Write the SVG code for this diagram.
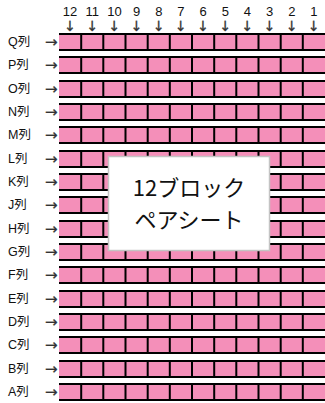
<svg xmlns="http://www.w3.org/2000/svg" xmlns:xlink="http://www.w3.org/1999/xlink" width="325" height="403" viewBox="0 0 325 403">
<style>
.lbl{font-family:"Liberation Sans","Noto Sans CJK JP",sans-serif;font-size:12.5px;fill:#111}
.arr{font-family:"DejaVu Sans",sans-serif;font-size:15px;fill:#333;stroke:#333;stroke-width:0.3}
.num{font-family:"Liberation Sans",sans-serif;font-size:13px;fill:#111;text-anchor:middle}
.dn{font-family:"DejaVu Sans",sans-serif;font-size:14px;fill:#333;stroke:#333;stroke-width:0.3;text-anchor:middle}
.big{font-family:"Noto Sans CJK JP",sans-serif;font-size:22px;fill:#111;text-anchor:middle}
</style>
<defs>
<g id="cells">
<rect x="59" y="0" width="266" height="18" fill="#000"/>
<rect x="59" y="2" width="266" height="14" fill="#F48FB9"/>
<path d="M81.2 0V18M103.3 0V18M125.5 0V18M147.7 0V18M169.8 0V18M192 0V18M214.2 0V18M236.3 0V18M258.5 0V18M280.7 0V18M302.8 0V18" stroke="#000" stroke-width="2"/>
</g>
</defs>
<rect width="325" height="403" fill="#fff"/>
<g id="columns">
<text class="num" x="70.1" y="16">12</text>
<text class="num" x="92.3" y="16">11</text>
<text class="num" x="114.4" y="16">10</text>
<text class="num" x="136.6" y="16">9</text>
<text class="num" x="158.8" y="16">8</text>
<text class="num" x="180.9" y="16">7</text>
<text class="num" x="203.1" y="16">6</text>
<text class="num" x="225.3" y="16">5</text>
<text class="num" x="247.4" y="16">4</text>
<text class="num" x="269.6" y="16">3</text>
<text class="num" x="291.8" y="16">2</text>
<text class="num" x="313.9" y="16">1</text>
<text class="dn" x="70.1" y="31">↓</text>
<text class="dn" x="92.3" y="31">↓</text>
<text class="dn" x="114.4" y="31">↓</text>
<text class="dn" x="136.6" y="31">↓</text>
<text class="dn" x="158.8" y="31">↓</text>
<text class="dn" x="180.9" y="31">↓</text>
<text class="dn" x="203.1" y="31">↓</text>
<text class="dn" x="225.3" y="31">↓</text>
<text class="dn" x="247.4" y="31">↓</text>
<text class="dn" x="269.6" y="31">↓</text>
<text class="dn" x="291.8" y="31">↓</text>
<text class="dn" x="313.9" y="31">↓</text>
</g>
<g id="row-Q"><text class="lbl" x="8" y="46">Q列</text><text class="arr" x="45" y="47">→</text><use xlink:href="#cells" y="33"/></g>
<g id="row-P"><text class="lbl" x="8" y="69">P列</text><text class="arr" x="45" y="70">→</text><use xlink:href="#cells" y="56"/></g>
<g id="row-O"><text class="lbl" x="8" y="93">O列</text><text class="arr" x="45" y="94">→</text><use xlink:href="#cells" y="80"/></g>
<g id="row-N"><text class="lbl" x="8" y="116">N列</text><text class="arr" x="45" y="117">→</text><use xlink:href="#cells" y="103"/></g>
<g id="row-M"><text class="lbl" x="8" y="139">M列</text><text class="arr" x="45" y="140">→</text><use xlink:href="#cells" y="126"/></g>
<g id="row-L"><text class="lbl" x="8" y="163">L列</text><text class="arr" x="45" y="164">→</text><use xlink:href="#cells" y="150"/></g>
<g id="row-K"><text class="lbl" x="8" y="186">K列</text><text class="arr" x="45" y="187">→</text><use xlink:href="#cells" y="173"/></g>
<g id="row-J"><text class="lbl" x="8" y="209">J列</text><text class="arr" x="45" y="210">→</text><use xlink:href="#cells" y="196"/></g>
<g id="row-H"><text class="lbl" x="8" y="233">H列</text><text class="arr" x="45" y="234">→</text><use xlink:href="#cells" y="220"/></g>
<g id="row-G"><text class="lbl" x="8" y="256">G列</text><text class="arr" x="45" y="257">→</text><use xlink:href="#cells" y="243"/></g>
<g id="row-F"><text class="lbl" x="8" y="279">F列</text><text class="arr" x="45" y="280">→</text><use xlink:href="#cells" y="266"/></g>
<g id="row-E"><text class="lbl" x="8" y="303">E列</text><text class="arr" x="45" y="304">→</text><use xlink:href="#cells" y="290"/></g>
<g id="row-D"><text class="lbl" x="8" y="326">D列</text><text class="arr" x="45" y="327">→</text><use xlink:href="#cells" y="313"/></g>
<g id="row-C"><text class="lbl" x="8" y="349">C列</text><text class="arr" x="45" y="350">→</text><use xlink:href="#cells" y="336"/></g>
<g id="row-B"><text class="lbl" x="8" y="373">B列</text><text class="arr" x="45" y="374">→</text><use xlink:href="#cells" y="360"/></g>
<g id="row-A"><text class="lbl" x="8" y="396">A列</text><text class="arr" x="45" y="397">→</text><use xlink:href="#cells" y="383"/></g>
<g id="title">
<rect x="108.5" y="156.5" width="161" height="94" fill="#fff" stroke="#c4c4c4" stroke-width="1.5"/>
<text class="big" x="189" y="196">12ブロック</text>
<text class="big" x="189" y="228">ペアシート</text>
</g>
</svg>
